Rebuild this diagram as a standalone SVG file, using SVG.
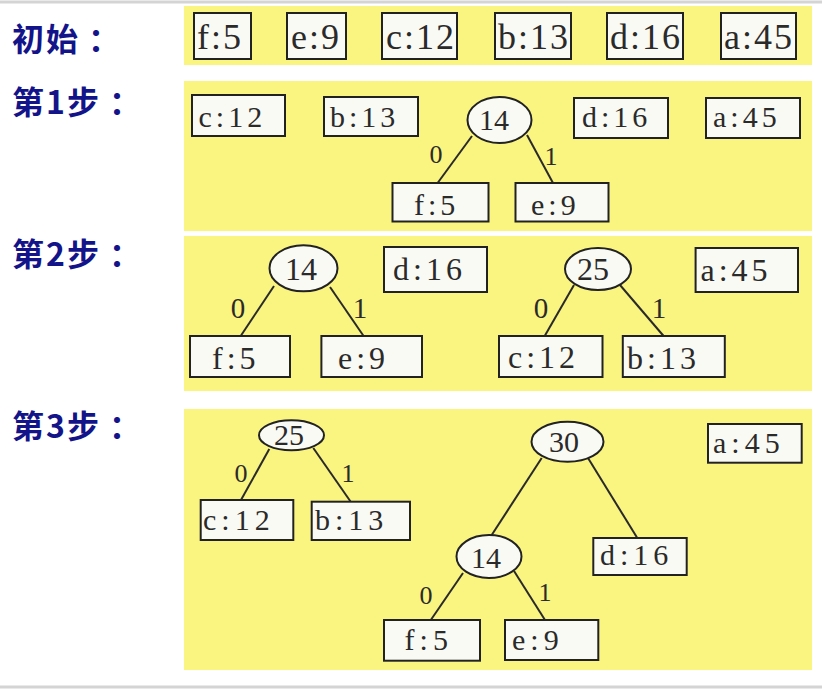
<svg xmlns="http://www.w3.org/2000/svg" width="822" height="690" viewBox="0 0 822 690">
<style>
.bg{fill:#faf480}
.box{fill:#fafaf5;stroke:#222;stroke-width:2}
.ell{fill:#fafaf5;stroke:#222;stroke-width:2}
.t{font-family:'Liberation Serif','Times New Roman',serif;fill:#2a2a2a}
.t0{font-size:36px;letter-spacing:2px}
.t1{font-size:30px;letter-spacing:4px}
.t2{font-size:32px;letter-spacing:4px}
.t3{font-size:30px;letter-spacing:5px}
.n{letter-spacing:0px}
.lab{font-family:'Liberation Serif','Times New Roman',serif;fill:#2a2a2a;font-size:26px;text-anchor:middle}
.step{font-family:'Noto Sans CJK SC','Noto Sans',sans-serif;font-weight:bold;font-size:32px;fill:#14148a;letter-spacing:2px}
.edge{stroke:#2a2a2a;stroke-width:2;fill:none}
.rule{stroke:#d4d4d4;stroke-width:3}
</style>
<rect width="822" height="690" fill="#ffffff"/>
<line class="rule" x1="0" y1="2" x2="822" y2="2"/>
<line class="rule" x1="0" y1="687" x2="822" y2="687"/>

<g id="labels">
<text class="step" x="12" y="51">初始<tspan dx="8">：</tspan></text>
<text class="step" x="12" y="114">第1步<tspan dx="8">：</tspan></text>
<text class="step" x="12" y="266">第2步<tspan dx="8">：</tspan></text>
<text class="step" x="12" y="438">第3步<tspan dx="8">：</tspan></text>
</g>

<g id="panels">
<rect class="bg" x="184" y="6" width="628" height="59"/>
<rect class="bg" x="184" y="81" width="628" height="150"/>
<rect class="bg" x="184" y="236" width="628" height="155"/>
<rect class="bg" x="184" y="409" width="628" height="261"/>
</g>

<g id="connectors">
<line class="edge" x1="472" y1="136" x2="437.6" y2="183"/>
<line class="edge" x1="527" y1="135" x2="553" y2="183"/>
<line class="edge" x1="274" y1="286" x2="240.7" y2="336"/>
<line class="edge" x1="330" y1="287" x2="363.6" y2="336"/>
<line class="edge" x1="574" y1="285" x2="544.7" y2="336"/>
<line class="edge" x1="620" y1="285" x2="663.6" y2="336"/>
<line class="edge" x1="269.3" y1="449" x2="241" y2="500"/>
<line class="edge" x1="313.3" y1="448" x2="350.7" y2="501.7"/>
<line class="edge" x1="541.7" y1="458" x2="491.7" y2="535"/>
<line class="edge" x1="588" y1="458" x2="637.3" y2="538"/>
<line class="edge" x1="463" y1="573" x2="430.8" y2="620"/>
<line class="edge" x1="514" y1="571" x2="545" y2="620"/>
<text class="lab" x="436" y="163">0</text>
<text class="lab" x="551" y="165">1</text>
<text class="lab" x="238" y="318" style="font-size:29px">0</text>
<text class="lab" x="360" y="318" style="font-size:29px">1</text>
<text class="lab" x="541" y="318" style="font-size:29px">0</text>
<text class="lab" x="659" y="318" style="font-size:29px">1</text>
<text class="lab" x="241" y="482">0</text>
<text class="lab" x="348" y="482">1</text>
<text class="lab" x="426" y="604">0</text>
<text class="lab" x="545" y="601">1</text>
</g>

<g id="step0">
<g id="s0-f"><rect class="box" x="194" y="13" width="57" height="46"/><text class="t t0" x="197" y="49">f:5</text></g>
<g id="s0-e"><rect class="box" x="287" y="13" width="59" height="46"/><text class="t t0" x="291" y="49">e:9</text></g>
<g id="s0-c"><rect class="box" x="382" y="13" width="75" height="46"/><text class="t t0" x="386" y="49">c:12</text></g>
<g id="s0-b"><rect class="box" x="495" y="13" width="76" height="46"/><text class="t t0" x="498" y="49">b:13</text></g>
<g id="s0-d"><rect class="box" x="607" y="13" width="76" height="46"/><text class="t t0" x="610" y="49">d:16</text></g>
<g id="s0-a"><rect class="box" x="721" y="13" width="75" height="46"/><text class="t t0" x="724" y="49">a:45</text></g>
</g>

<g id="step1">
<g id="s1-c"><rect class="box" x="192" y="95" width="93" height="41"/><text class="t t1" x="198.5" y="127">c:12</text></g>
<g id="s1-b"><rect class="box" x="324" y="97" width="94" height="39"/><text class="t t1" x="330" y="127">b:13</text></g>
<g id="s1-14"><ellipse class="ell" cx="499.5" cy="120" rx="32" ry="23"/><text class="t t1 n" x="494" y="130" text-anchor="middle">14</text></g>
<g id="s1-d"><rect class="box" x="574" y="98" width="94" height="40"/><text class="t t1" x="582" y="127">d:16</text></g>
<g id="s1-a"><rect class="box" x="706" y="98" width="94" height="40"/><text class="t t1" x="713" y="127">a:45</text></g>
<g id="s1-f"><rect class="box" x="392.5" y="183" width="96" height="38.5"/><text class="t t1" x="414" y="215">f:5</text></g>
<g id="s1-e"><rect class="box" x="515.5" y="183" width="93" height="38.5"/><text class="t t1" x="531" y="215">e:9</text></g>
</g>

<g id="step2">
<g id="s2-14"><ellipse class="ell" cx="303.5" cy="268.3" rx="34" ry="23"/><text class="t t2 n" x="301" y="280" text-anchor="middle">14</text></g>
<g id="s2-d"><rect class="box" x="384" y="247" width="103" height="45"/><text class="t t2" x="393" y="280">d:16</text></g>
<g id="s2-25"><ellipse class="ell" cx="598" cy="269" rx="33" ry="21"/><text class="t t2 n" x="593" y="280" text-anchor="middle">25</text></g>
<g id="s2-a"><rect class="box" x="695.6" y="248" width="102.4" height="44"/><text class="t t2" x="700.5" y="281">a:45</text></g>
<g id="s2-f"><rect class="box" x="190" y="336" width="100" height="41"/><text class="t t2" x="212" y="369">f:5</text></g>
<g id="s2-e"><rect class="box" x="321.4" y="336" width="100.6" height="41"/><text class="t t2" x="338" y="369">e:9</text></g>
<g id="s2-c"><rect class="box" x="499" y="336" width="103.5" height="41"/><text class="t t2" x="508" y="368">c:12</text></g>
<g id="s2-b"><rect class="box" x="622.8" y="336" width="102" height="41"/><text class="t t2" x="627" y="369">b:13</text></g>
</g>

<g id="step3">
<g id="s3-25"><ellipse class="ell" cx="291.5" cy="435.3" rx="32.5" ry="15"/><text class="t t3 n" x="289" y="445" text-anchor="middle">25</text></g>
<g id="s3-c"><rect class="box" x="200.7" y="500" width="92.6" height="40"/><text class="t t3" x="203" y="530">c:12</text></g>
<g id="s3-b"><rect class="box" x="311.7" y="501.7" width="98.3" height="38.3"/><text class="t t3" x="315" y="530">b:13</text></g>
<g id="s3-30"><ellipse class="ell" cx="567.5" cy="441.7" rx="36" ry="20"/><text class="t t3 n" x="564" y="452" text-anchor="middle">30</text></g>
<g id="s3-a"><rect class="box" x="708" y="424" width="93.7" height="38.7"/><text class="t t3" x="713" y="453">a:45</text></g>
<g id="s3-14"><ellipse class="ell" cx="489" cy="556.5" rx="32.5" ry="21.5"/><text class="t t3 n" x="486" y="568" text-anchor="middle">14</text></g>
<g id="s3-d"><rect class="box" x="593.3" y="538" width="93.4" height="37"/><text class="t t3" x="600" y="565">d:16</text></g>
<g id="s3-f"><rect class="box" x="384" y="620" width="96" height="40.7"/><text class="t t3" x="404.6" y="650">f:5</text></g>
<g id="s3-e"><rect class="box" x="505" y="620" width="93.3" height="40"/><text class="t t3" x="512" y="650">e:9</text></g>
</g>
</svg>
